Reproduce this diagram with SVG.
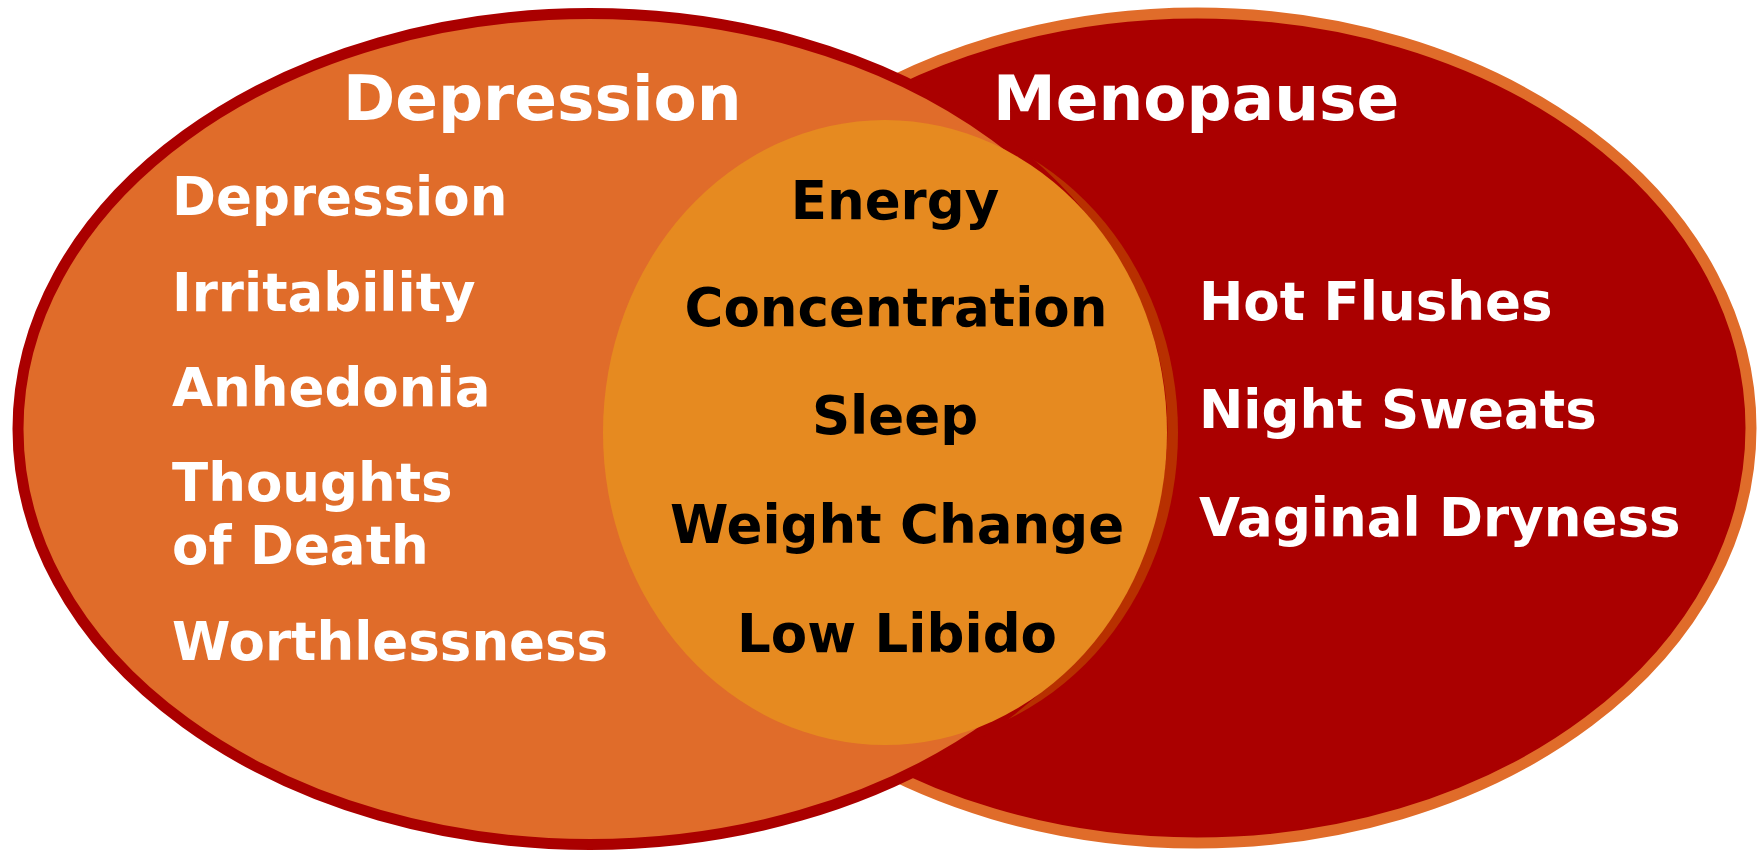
<svg xmlns="http://www.w3.org/2000/svg" width="1763" height="850" viewBox="0 0 1763 850">
<style>
.t{font-family:"DejaVu Sans","Verdana",sans-serif;font-weight:bold;}
.title{font-size:63px;fill:#ffffff;}
.w{font-size:53px;fill:#ffffff;}
.b{font-size:53px;fill:#000000;text-anchor:middle;}
</style>
<rect width="1763" height="850" fill="#ffffff"/>
<g id="menopause">
<ellipse cx="1197" cy="428" rx="554" ry="415" fill="#AA0000" stroke="#E06C2A" stroke-width="11"/>
</g>
<g id="overlap-shadow">
<ellipse cx="896" cy="432.5" rx="282" ry="312.5" fill="#B83000"/>
</g>
<g id="depression">
<ellipse cx="590" cy="429" rx="572" ry="415.5" fill="#E06C2A" stroke="#AA0000" stroke-width="11"/>
</g>
<g id="overlap">
<ellipse cx="885" cy="432.5" rx="282" ry="312.5" fill="#E68A20"/>
</g>
<g id="depression-labels" class="t">
<text class="title" x="343" y="120">Depression</text>
<text class="w" x="172" y="215">Depression</text>
<text class="w" x="172" y="311">Irritability</text>
<text class="w" x="172" y="406">Anhedonia</text>
<text class="w" x="172" y="501">Thoughts</text>
<text class="w" x="172" y="564">of Death</text>
<text class="w" x="172" y="660">Worthlessness</text>
</g>
<g id="menopause-labels" class="t">
<text class="title" x="993" y="120">Menopause</text>
<text class="w" x="1199" y="320">Hot Flushes</text>
<text class="w" x="1199" y="428">Night Sweats</text>
<text class="w" x="1199" y="536">Vaginal Dryness</text>
</g>
<g id="overlap-labels" class="t">
<text class="b" x="895" y="219">Energy</text>
<text class="b" x="896" y="326">Concentration</text>
<text class="b" x="895" y="434">Sleep</text>
<text class="b" x="897" y="543">Weight Change</text>
<text class="b" x="897" y="652">Low Libido</text>
</g>
<g id="connectors"></g>
</svg>
